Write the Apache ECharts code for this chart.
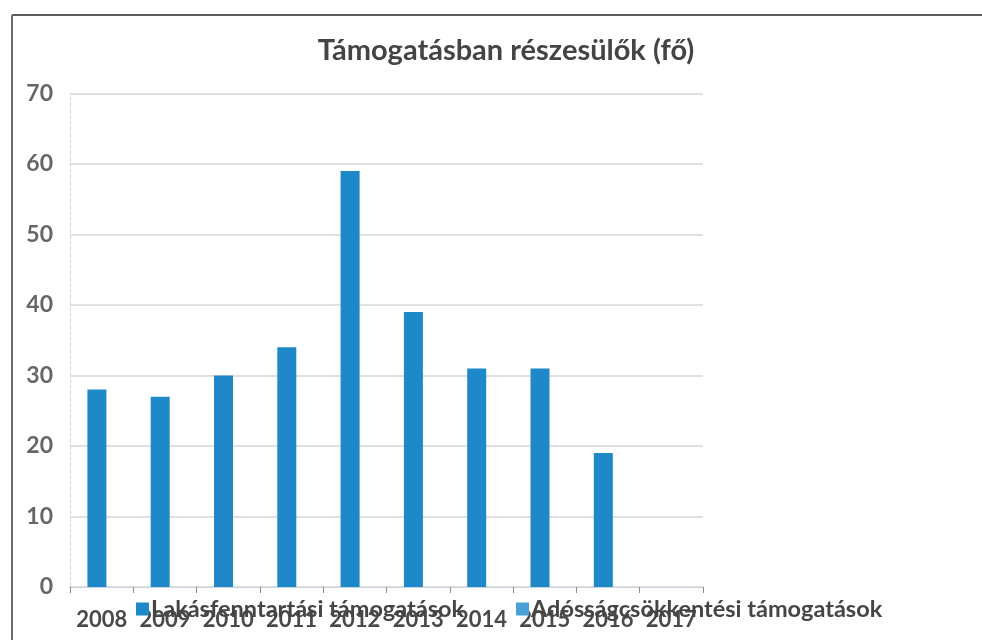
<!DOCTYPE html>
<html>
<head>
<meta charset="utf-8">
<script src="https://cdn.jsdelivr.net/npm/echarts@6/dist/echarts.min.js"></script>
<style>
html,body{margin:0;padding:0;background:#fff;}
#chart{width:982px;height:640px;}
</style>
</head>
<body>
<div id="chart"></div>
<script>
const chartTitle = 'Támogatásban részesülők (fő)';
const years = ['2008','2009','2010','2011','2012','2013','2014','2015','2016','2017'];
const seriesNames = ['Lakásfenntartási támogatások', 'Adósságcsökkentési támogatások'];
const housingSupport = [28, 27, 30, 34, 59, 39, 31, 31, 19, 0];
const debtReduction = [0, 0, 0, 0, 0, 0, 0, 0, 0, 0];
const yTicks = [0, 10, 20, 30, 40, 50, 60, 70];

const chart = echarts.init(document.getElementById('chart'));
const font = 'Lato, "Open Sans", sans-serif';
chart.setOption({
  animation: false,
  backgroundColor: '#ffffff',
  title: {
    text: chartTitle,
    left: 501, top: 31, textAlign: 'center',
    textStyle: { fontFamily: font, fontSize: 29, fontWeight: 'bold', color: '#444444' }
  },
  legend: {
    data: seriesNames,
    left: 131, top: 592,
    itemWidth: 13, itemHeight: 13, itemGap: 52,
    icon: 'rect',
    textStyle: { fontFamily: font, fontSize: 23.5, fontWeight: 'bold', color: '#454545', padding: [0,0,0,-3] }
  },
  graphic: [
    { type: 'line', shape: { x1: 12, y1: 15, x2: 982, y2: 15 }, style: { stroke: '#5a5a5a', lineWidth: 2 } },
    { type: 'line', shape: { x1: 12, y1: 15, x2: 12, y2: 640 }, style: { stroke: '#6a6a6a', lineWidth: 2 } }
  ],
  grid: { left: 70, right: 279, top: 93.5, bottom: 53 },
  xAxis: {
    type: 'category',
    data: years,
    axisLine: { show: true, lineStyle: { color: '#c8d4e0', width: 1 } },
    axisTick: { show: true, length: 6, lineStyle: { color: '#8a8a8a' } },
    axisLabel: { interval: 0, fontFamily: font, fontSize: 22, fontWeight: 'bold', color: '#4a4a4a', margin: 22, hideOverlap: false }
  },
  yAxis: {
    type: 'value',
    min: yTicks[0], max: yTicks[yTicks.length - 1], interval: 10,
    axisLine: { show: true, lineStyle: { color: '#d8d8d8', type: 'dashed' } },
    axisTick: { show: false },
    axisLabel: { fontFamily: font, fontSize: 23, fontWeight: 'bold', color: '#666666', margin: 17 },
    splitLine: { lineStyle: { color: '#d6d6d6', width: 1.5 } }
  },
  series: [
    {
      name: seriesNames[0], type: 'bar', data: housingSupport,
      barWidth: 19, barGap: '-50%',
      itemStyle: { color: '#1e88c8' }
    },
    {
      name: seriesNames[1], type: 'bar', data: debtReduction,
      barWidth: 19,
      itemStyle: { color: '#4aa0d8' }
    }
  ]
});
</script>
</body>
</html>
